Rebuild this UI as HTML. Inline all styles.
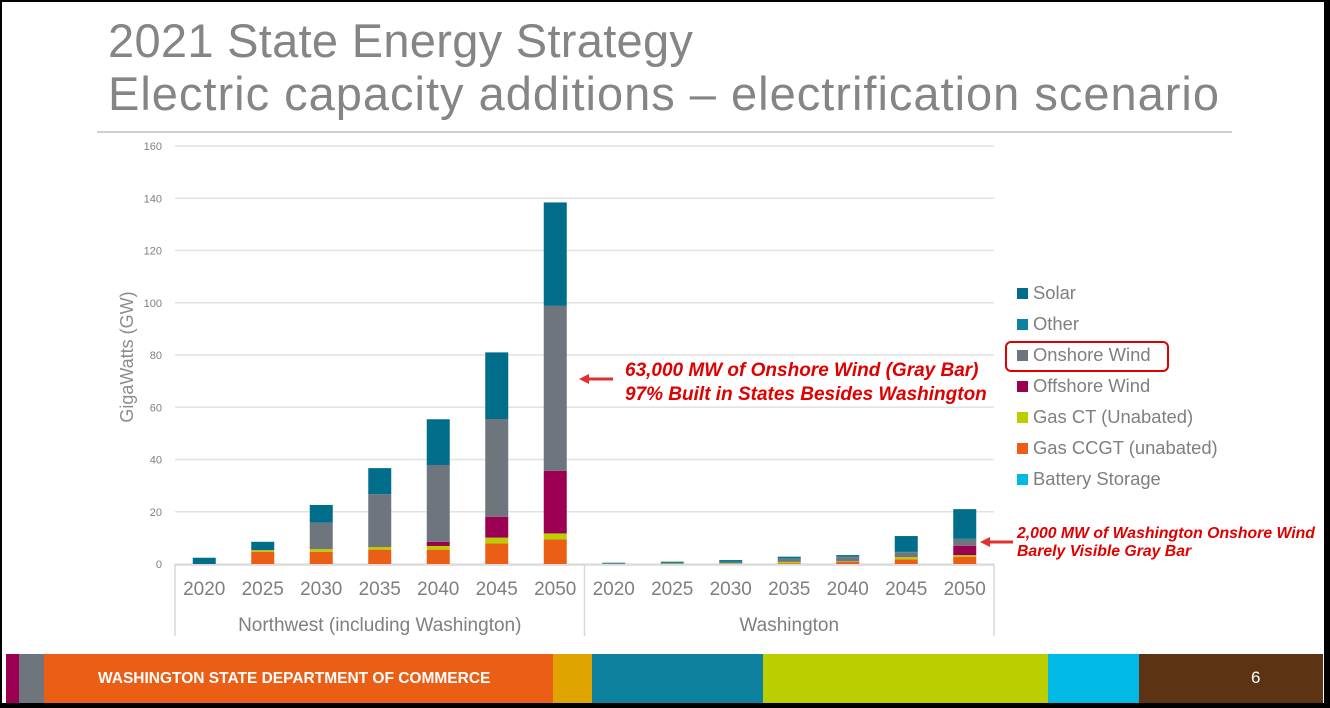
<!DOCTYPE html>
<html><head><meta charset="utf-8"><style>
html,body{margin:0;padding:0;background:#000;}
#page{position:relative;width:1330px;height:708px;overflow:hidden;background:#000;font-family:"Liberation Sans",sans-serif;}
#white{position:absolute;left:2px;top:2px;width:1322px;height:701px;background:#fff;}
.title{position:absolute;left:108px;font-size:47px;color:#858585;white-space:nowrap;}
</style></head><body>
<div id="page">
<div id="white"></div>
<div class="title" style="top:13px;letter-spacing:0.3px">2021 State Energy Strategy</div>
<div class="title" style="top:66px;letter-spacing:1.0px">Electric capacity additions – electrification scenario</div>
<div style="position:absolute;left:97px;top:131px;width:1135px;height:2px;background:#d0d0d0"></div>
<svg id="chart" width="1330" height="708" style="position:absolute;left:0;top:0"></svg>
<div style="position:absolute;left:6px;top:654px;height:49px;width:1317px">
<div style="position:absolute;left:0;width:13px;height:100%;background:#9b0052"></div>
<div style="position:absolute;left:13px;width:25px;height:100%;background:#6e757c"></div>
<div style="position:absolute;left:38px;width:509px;height:100%;background:#eb5e16"></div>
<div style="position:absolute;left:547px;width:39px;height:100%;background:#e0a400"></div>
<div style="position:absolute;left:586px;width:171px;height:100%;background:#0d819e"></div>
<div style="position:absolute;left:757px;width:285px;height:100%;background:#bace00"></div>
<div style="position:absolute;left:1042px;width:91px;height:100%;background:#00b9e4"></div>
<div style="position:absolute;left:1133px;width:184px;height:100%;background:#5c3414"></div>
<div style="position:absolute;left:92px;top:16px;color:#fff;font-weight:bold;font-size:15.5px">WASHINGTON STATE DEPARTMENT OF COMMERCE</div>
<div style="position:absolute;left:1245px;top:14px;color:#fff;font-size:17px">6</div>
</div>
</div>
<script>
const categories=["2020","2025","2030","2035","2040","2045","2050"];
const groups=["Northwest (including Washington)","Washington"];
const seriesNames=["Battery Storage","Gas CCGT (unabated)","Gas CT (Unabated)","Offshore Wind","Onshore Wind","Other","Solar"];
const seriesColors=["#00b9e4","#eb5e16","#bace00","#9b0052","#6e757c","#0d819e","#006e8b"];
const nwBattery=[0,0,0,0,0,0,0];
const nwCCGT=[0,4.7,4.7,5.5,5.5,7.9,9.4];
const nwCT=[0,0.6,1.0,1.0,1.4,2.2,2.3];
const nwOffshore=[0,0,0,0,1.6,8.0,24.0];
const nwOnshore=[0,0,10.1,20.2,29.4,37.4,63.1];
const nwOther=[0,0,0,0,0,0,0];
const nwSolar=[2.4,3.2,6.8,10.0,17.5,25.5,39.6];
const waBattery=[0,0,0,0,0,0,0];
const waCCGT=[0,0,0.1,0.3,0.8,1.8,2.8];
const waCT=[0,0.2,0.2,0.5,0.2,0.8,0.6];
const waOffshore=[0,0,0,0,0,0,3.6];
const waOnshore=[0.3,0.2,0.3,1.2,1.6,1.9,2.4];
const waOther=[0.2,0.5,0.3,0.3,0.3,0.3,0.3];
const waSolar=[0,0,0.6,0.5,0.5,5.9,11.3];
const yTicks=[0,20,40,60,80,100,120,140,160];
const NS="http://www.w3.org/2000/svg";
const svg=document.getElementById('chart');
function mk(t,a,p){const e=document.createElementNS(NS,t);for(const k in a)e.setAttribute(k,a[k]);(p||svg).appendChild(e);return e;}
const X0=175,X1=994,Y0=564,Y1=146,YMAX=160;
function y(v){return Y0-(v/YMAX)*(Y0-Y1);}
const slot=(X1-X0)/14;
function x(g,i){return X0+(g*7+i+0.5)*slot;}
yTicks.forEach(t=>{
 const l=mk('line',{x1:X0,x2:X1,y1:y(t),y2:y(t),stroke:'#e2e2e2','stroke-width':1.5});
 
 
 const tx=mk('text',{x:162,y:y(t)+4,'text-anchor':'end','font-size':11,fill:'#7f7f7f','font-family':'Liberation Sans'});
 tx.textContent=t;
 
 
});
const yt=mk('text',{transform:'translate(133,357) rotate(-90)','text-anchor':'middle','font-size':18,fill:'#8c8c8c','font-family':'Liberation Sans'});
yt.textContent='GigaWatts (GW)';


const data=[[nwBattery,nwCCGT,nwCT,nwOffshore,nwOnshore,nwOther,nwSolar],[waBattery,waCCGT,waCT,waOffshore,waOnshore,waOther,waSolar]];
const bw=23;
data.forEach((gs,g)=>{
 categories.forEach((c,i)=>{
  let cum=0;
  gs.forEach((arr,s)=>{
   const v=arr[i]; if(!v)return;
   const r=mk('rect',{x:x(g,i)-bw/2,y:y(cum+v),width:bw,height:y(cum)-y(cum+v),fill:seriesColors[s]});
   
   
   cum+=v;
  });
  const tl=mk('text',{x:x(g,i),y:595,'text-anchor':'middle','font-size':19,fill:'#7f7f7f','font-family':'Liberation Sans'});
  tl.textContent=c;
  
  
 });
 const gl=mk('text',{x:X0+(g+0.5)*(X1-X0)/2,y:631,'text-anchor':'middle','font-size':19,fill:'#7f7f7f','font-family':'Liberation Sans'});
 gl.textContent=groups[g];
 
 
});
const ax=mk('line',{x1:X0,x2:X1,y1:Y0+1,y2:Y0+1,stroke:'#d9d9d9','stroke-width':1.5});


[X0,(X0+X1)/2,X1].forEach(px=>{
 const d=mk('line',{x1:px,x2:px,y1:Y0,y2:636,stroke:'#d9d9d9','stroke-width':1.5});
 
 
});
["Solar","Other","Onshore Wind","Offshore Wind","Gas CT (Unabated)","Gas CCGT (unabated)","Battery Storage"].forEach((n,k)=>{
 const si=seriesNames.indexOf(n);
 const yy=293+k*31;
 const sq=mk('rect',{x:1017,y:yy-5,width:11,height:11,fill:seriesColors[si]});
 
 
 const t=mk('text',{x:1033,y:yy+6,'font-size':18.4,fill:'#7f7f7f','font-family':'Liberation Sans'});
 t.textContent=n;
 
 
});
const hb=mk('rect',{x:1006,y:342,width:162,height:29,rx:5,fill:'none',stroke:'#e00000','stroke-width':2});


function arrow(x1,x2,yy,name){
 const l=mk('line',{x1:x1,x2:x2+8,y1:yy,y2:yy,stroke:'#e03030','stroke-width':3});
 
 
 const p=mk('polygon',{points:`${x2},${yy} ${x2+10},${yy-5} ${x2+10},${yy+5}`,fill:'#e03030'});
 
 
}
arrow(613,579,379,'annotation-arrow-nw');
arrow(1013,980,542,'annotation-arrow-wa');
function note(tx,xx,yy,fs,name){
 const t=mk('text',{x:xx,y:yy,'font-size':fs,fill:'#e00000','font-weight':'bold','font-style':'italic','font-family':'Liberation Sans'});
 t.textContent=tx;
 
 
}
note('63,000 MW of Onshore Wind (Gray Bar)',625,376,19,'annotation-nw-line-1');
note('97% Built in States Besides Washington',625,400,19,'annotation-nw-line-2');
note('2,000 MW of Washington Onshore Wind',1017,538,15.8,'annotation-wa-line-1');
note('Barely Visible Gray Bar',1017,556,15.8,'annotation-wa-line-2');
</script>
</body></html>
